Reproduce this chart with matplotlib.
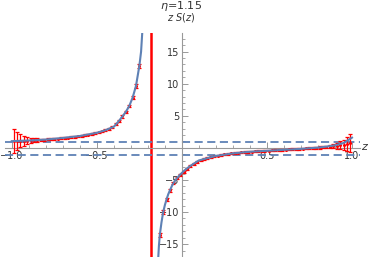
import numpy as np
import matplotlib.pyplot as plt

eta = 1.15
z_pole = -0.18
upper_line = 0.87
lower_line = -1.15

# blue curve, left branch (z < pole)
z_left = [-1.0, -0.95, -0.9, -0.8, -0.7, -0.6, -0.5, -0.45, -0.4, -0.37, -0.35,
          -0.33, -0.31, -0.29, -0.27, -0.25, -0.24, -0.233, -0.228]
v_left = [1.05, 1.1, 1.15, 1.3, 1.55, 1.85, 2.35, 2.75, 3.3, 4.2, 4.9,
          5.6, 6.5, 7.8, 9.65, 12.8, 15.0, 18.0, 20.0]

# blue curve, right branch (z > pole)
z_right = [-0.142, -0.135, -0.13, -0.12, -0.11, -0.10, -0.09, -0.08, -0.07, -0.06,
           -0.05, -0.04, -0.03, -0.02, -0.01, 0.0, 0.02, 0.05, 0.1, 0.15, 0.2,
           0.3, 0.4, 0.5, 0.6, 0.7, 0.8, 0.85, 0.9, 0.95, 1.0]
v_right = [-18.5, -15.2, -13.6, -11.6, -10.0, -8.9, -8.0, -7.2, -6.6, -6.0,
           -5.5, -5.1, -4.75, -4.45, -4.15, -3.9, -3.4, -2.8, -1.95, -1.6, -1.25,
           -0.85, -0.6, -0.45, -0.3, -0.15, 0.05, 0.2, 0.4, 0.75, 1.6]

# red data points with error bars
z_data = [-0.99, -0.97, -0.95, -0.93, -0.91, -0.89, -0.87, -0.85, -0.83, -0.81,
          -0.79, -0.77, -0.75, -0.73, -0.71, -0.69, -0.67, -0.65, -0.63, -0.61,
          -0.59, -0.57, -0.55, -0.53, -0.51, -0.49, -0.47, -0.45, -0.43, -0.41,
          -0.39, -0.37, -0.35, -0.33, -0.31, -0.29, -0.27, -0.25,
          -0.13, -0.11, -0.09, -0.07, -0.05, -0.03, -0.01, 0.01, 0.03, 0.05,
          0.07, 0.09, 0.11, 0.13, 0.15, 0.17, 0.19, 0.21, 0.23, 0.25,
          0.27, 0.29, 0.31, 0.33, 0.35, 0.37, 0.39, 0.41, 0.43, 0.45,
          0.47, 0.49, 0.51, 0.53, 0.55, 0.57, 0.59, 0.61, 0.63, 0.65,
          0.67, 0.69, 0.71, 0.73, 0.75, 0.77, 0.79, 0.81, 0.83, 0.85,
          0.87, 0.89, 0.91, 0.93, 0.95, 0.97, 0.99]
v_data = [1.05, 1.07, 1.09, 1.11, 1.13, 1.16, 1.19, 1.22, 1.25, 1.28,
          1.32, 1.36, 1.40, 1.45, 1.50, 1.55, 1.60, 1.66, 1.73, 1.80,
          1.88, 1.97, 2.06, 2.17, 2.29, 2.42, 2.57, 2.75, 3.0, 3.3,
          3.7, 4.2, 4.9, 5.6, 6.5, 7.8, 9.65, 12.8,
          -13.6, -10.0, -8.0, -6.6, -5.5, -4.75, -4.2, -3.7, -3.25, -2.85,
          -2.5, -2.2, -1.95, -1.75, -1.6, -1.45, -1.32, -1.2, -1.1, -1.0,
          -0.92, -0.85, -0.8, -0.75, -0.7, -0.66, -0.62, -0.58, -0.54, -0.5,
          -0.47, -0.44, -0.41, -0.38, -0.35, -0.32, -0.29, -0.26, -0.23, -0.2,
          -0.17, -0.14, -0.11, -0.08, -0.05, -0.02, 0.02, 0.06, 0.1, 0.15,
          0.2, 0.26, 0.32, 0.4, 0.5, 0.6, 0.7]
e_data = [1.9, 1.35, 1.0, 0.75, 0.55, 0.42, 0.32, 0.25, 0.2, 0.17,
          0.15, 0.14, 0.13, 0.13, 0.12, 0.12, 0.12, 0.12, 0.12, 0.12,
          0.12, 0.12, 0.12, 0.12, 0.13, 0.13, 0.13, 0.14, 0.14, 0.15,
          0.15, 0.16, 0.17, 0.18, 0.2, 0.22, 0.25, 0.3,
          0.3, 0.25, 0.22, 0.2, 0.18, 0.17, 0.16, 0.15, 0.15, 0.14,
          0.14, 0.13, 0.13, 0.13, 0.12, 0.12, 0.12, 0.12, 0.12, 0.12,
          0.12, 0.12, 0.12, 0.12, 0.12, 0.12, 0.12, 0.12, 0.12, 0.12,
          0.12, 0.12, 0.12, 0.12, 0.12, 0.12, 0.12, 0.12, 0.12, 0.12,
          0.12, 0.12, 0.13, 0.13, 0.14, 0.14, 0.15, 0.16, 0.18, 0.22,
          0.27, 0.35, 0.45, 0.6, 0.8, 1.05, 1.4]

blue = (0.368, 0.507, 0.710)
gray = '#999999'

fig = plt.figure(figsize=(3.74, 2.57), dpi=100)
ax = fig.add_axes([5 / 374, 0, 355 / 374, 224 / 257])

ax.axvline(z_pole, color='red', lw=1.8, zorder=2)
ax.axhline(upper_line, color=blue, lw=1.3, ls=(0, (4.5, 2.5)), zorder=2)
ax.axhline(lower_line, color=blue, lw=1.3, ls=(0, (4.5, 2.5)), zorder=2)

ax.errorbar(z_data, v_data, yerr=e_data, fmt='o', color='red', ms=1.2,
            elinewidth=0.9, capsize=1.6, capthick=0.9, zorder=3)

ax.plot(z_left, v_left, color=blue, lw=1.5, zorder=4)
ax.plot(z_right, v_right, color=blue, lw=1.5, zorder=4)

ax.set_xlim(-1.04, 1.047)
ax.set_ylim(-17.0, 17.9)

for side in ['top', 'right']:
    ax.spines[side].set_visible(False)
for side in ['left', 'bottom']:
    ax.spines[side].set_position('zero')
    ax.spines[side].set_color(gray)
    ax.spines[side].set_linewidth(0.8)

ax.set_xticks([-1.0, -0.5, 0.5, 1.0])
ax.set_xticks(np.arange(-1.0, 1.01, 0.1), minor=True)
ax.set_yticks([-15, -10, -5, 5, 10, 15])
ax.set_yticks(np.arange(-17, 18, 1), minor=True)
ax.tick_params(which='both', direction='in', color=gray, labelsize=7,
               labelcolor='#333333', pad=2)
ax.tick_params(which='major', length=4, width=0.7)
ax.tick_params(which='minor', length=2, width=0.6)
ax.patch.set_alpha(0)

fig.text(365 / 374, 1 - 147 / 257, '$z$', fontsize=8, ha='center', va='center',
         color='#333333')
fig.text(181 / 374, 1 - 18 / 257, '$z\\ S(z)$', fontsize=7, ha='center',
         va='center', color='#333333')
fig.text(181 / 374, 1 - 6 / 257, '$\\eta$=1.15', fontsize=8, ha='center',
         va='center', color='#333333')

fig.savefig('out.png', dpi=100)
